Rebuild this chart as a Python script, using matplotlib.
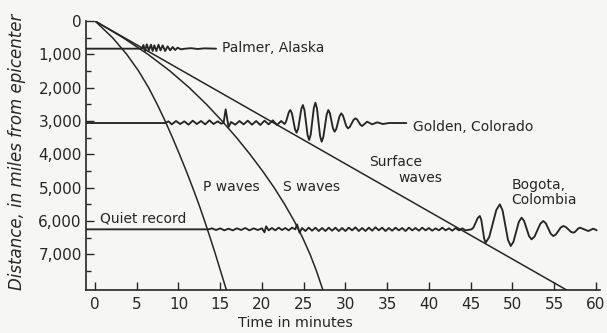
import numpy as np
import matplotlib
matplotlib.use("Agg")
import matplotlib.pyplot as plt

# travel-time curves (distance in miles, time in minutes)
p_dist = [0, 500, 1000, 1500, 2000, 2500, 3000, 3500, 4000, 4500, 5000,
          5500, 6000, 6500, 7000, 7500, 8070]
p_time = [0, 2.1, 3.8, 5.22, 6.42, 7.45, 8.4, 9.28, 10.12, 10.93, 11.7,
          12.44, 13.13, 13.79, 14.43, 15.04, 15.74]
s_dist = [0, 500, 1000, 1500, 2000, 2500, 3000, 3500, 4000, 4500, 5000,
          5500, 6000, 6500, 7000, 7500, 8070]
s_time = [0, 3.35, 6.35, 8.98, 11.29, 13.35, 15.22, 16.96, 18.57, 20.07, 21.46,
          22.72, 23.86, 24.87, 25.76, 26.53, 27.3]
surf_dist = [0, 8070]
surf_time = [0, 56.5]

# seismograph records: baseline distance + trace (time, offset in miles, negative = up)
palmer_base = 830
palmer_t = [-1.1, 5.6, 5.8, 6.0, 6.2, 6.45, 6.7, 6.9, 7.1, 7.35, 7.6, 7.85, 8.1,
            8.4, 8.7, 9.0, 9.3, 9.6, 9.9, 10.3, 10.8, 11.5, 12.3, 13.1, 14.5]
palmer_off = [0, 0, -110, 70, -130, 50, -120, 70, -100, 70, -120, 50, -100,
              70, -70, 50, -50, 40, -30, 20, 0, -15, 10, -10, 0]

golden_base = 3060
golden_t = [-1.1, 8.4, 8.8, 9.2, 9.7, 10.2, 10.7, 11.2, 11.7, 12.2, 12.7, 13.2,
            13.7, 14.2, 14.7, 15.1, 15.4, 15.65, 16.0, 16.3, 16.8, 17.3, 17.8,
            18.3, 18.8, 19.3, 19.8, 20.3, 20.8, 21.3, 21.8, 22.3,
            22.7, 22.875, 23.05, 23.225, 23.4,
            23.59, 23.775, 23.96, 24.15,
            24.34, 24.525, 24.71, 24.9,
            25.09, 25.275, 25.46, 25.65,
            25.84, 26.025, 26.21, 26.4,
            26.59, 26.775, 26.96, 27.15,
            27.35, 27.55, 27.75, 27.95,
            28.14, 28.325, 28.51, 28.7,
            28.9, 29.1, 29.3, 29.5,
            29.7, 29.9, 30.1, 30.3,
            30.525, 30.75, 30.975, 31.2,
            31.4, 31.6, 31.8, 32.0,
            32.6, 33.2, 33.8, 34.5, 35.2, 37.3]
golden_off = [0, 0, -50, 40, -60, 30, -50, 50, -70, 30, -60, 40,
              -80, 30, -50, 20, 0, -410, 120, -30, 50, -60, 40,
              -70, 50, -60, 60, -70, 40, -80, 60, -60,
              30, -32, -180, -328, -390,
              -290, -50, 190, 290,
              168, -125, -418, -540,
              -386, -15, 356, 510,
              346, -50, -446, -610,
              -439, -25, 389, 560,
              421, 85, -251, -390,
              -295, -65, 165, 260,
              179, -15, -209, -290,
              -224, -65, 94, 160,
              116, 10, -96, -140,
              -106, -25, 56, 90,
              -40, 40, -20, 30, 0, 0]

bogota_base = 6250
bogota_t = [-1.1, 13.6, 14.0, 14.5, 15.0, 15.5, 16.0, 16.5, 17.0, 17.5, 18.0,
            18.5, 19.0, 19.5, 20.0, 20.3, 20.5, 20.8, 21.2, 21.6, 22.0, 22.4,
            22.8, 23.2, 23.6, 24.0, 24.2, 24.5, 24.8, 25.2, 25.6, 26.0, 26.4,
            26.8, 27.2, 27.6, 28.0, 28.4, 28.8, 29.2, 29.6, 30.0, 30.4, 30.8,
            31.2, 31.6, 32.0, 32.4, 32.8, 33.2, 33.6, 34.0, 34.4, 34.8, 35.2,
            35.6, 36.0, 36.4, 36.8, 37.2, 37.6, 38.0, 38.4, 38.8, 39.2, 39.6,
            40.0, 40.4, 40.8, 41.2, 41.6, 42.0, 42.4, 42.8, 43.2, 43.6, 44.0,
            44.4, 45.1, 45.35, 45.6, 45.85, 46.1,
            46.275, 46.45, 46.625, 46.8,
            47.225, 47.65, 48.075, 48.5,
            48.825, 49.15, 49.475, 49.8,
            50.125, 50.45, 50.775, 51.1,
            51.4, 51.7, 52.0, 52.3,
            52.65, 53.0, 53.35, 53.7,
            54.0, 54.3, 54.6, 54.9,
            55.2, 55.5, 55.8, 56.1,
            56.4, 56.7, 57.0, 57.3,
            57.5, 57.7, 57.9, 58.1,
            58.6, 59.1, 59.7, 60.1]
bogota_off = [0, 0, -30, 20, -30, 30, -20, 30, -30, 20, -40,
              30, -30, 20, -30, 90, -90, 30, -40, 30, -50, 20,
              -40, 30, -50, 0, -150, 100, -40, 50, -50, 40, -50,
              50, -40, 50, -50, 40, -50, 50, -40, 50, -50, 30,
              -60, 50, -40, 50, -50, 40, -60, 30, -50, 50, -40,
              40, -50, 30, -40, 50, -50, 30, -40, 40, -50, 30,
              -40, 40, -30, 30, -50, 30, -30, 40, -40, 30, -30,
              30, 0, -59, -200, -341, -400,
              -283, 0, 283, 400,
              232, -175, -582, -750,
              -567, -125, 317, 500,
              376, 75, -226, -350,
              -255, -25, 205, 300,
              219, 25, -169, -250,
              -184, -25, 134, 200,
              156, 50, -56, -100,
              -71, 0, 71, 100,
              78, 25, -28, -50,
              0, 50, -20, 30]

ink = "#262626"
bg = "#f6f6f4"

plt.rcParams["font.family"] = ["DejaVu Sans"]

fig = plt.figure(figsize=(6.07, 3.33), dpi=100, facecolor=bg)
ax = fig.add_axes([0.1417, 0.1291, 0.8468, 0.8078])
ax.set_facecolor(bg)

# travel time curves
ax.plot(p_time, p_dist, color=ink, lw=1.1)
ax.plot(s_time, s_dist, color=ink, lw=1.1)
ax.plot(surf_time, surf_dist, color=ink, lw=1.1)

# seismograms
for tt, off, base in [(palmer_t, palmer_off, palmer_base),
                      (golden_t, golden_off, golden_base),
                      (bogota_t, bogota_off, bogota_base)]:
    ax.plot(tt, np.array(off) + base, color=ink, lw=1.35,
            solid_joinstyle="round", solid_capstyle="round")

ax.set_xlim(-1.08, 60.5)
ax.set_ylim(8070, 0)

ax.spines["top"].set_visible(False)
ax.spines["right"].set_visible(False)
for s in ["left", "bottom"]:
    ax.spines[s].set_linewidth(1.2)
    ax.spines[s].set_color(ink)

ax.set_xticks(np.arange(0, 61, 5))
ax.set_yticks(np.arange(0, 7001, 1000))
ax.set_yticks(np.arange(500, 7600, 1000), minor=True)
ax.set_yticklabels(["0", "1,000", "2,000", "3,000", "4,000", "5,000", "6,000", "7,000"])
ax.tick_params(axis="both", which="major", direction="in", colors=ink,
               length=6, width=1.0, labelsize=11)
ax.tick_params(axis="y", which="major", pad=3)
ax.tick_params(axis="x", which="major", pad=5)
ax.tick_params(axis="y", which="minor", direction="in", color=ink, length=3.5, width=1.0)

ax.set_xlabel("Time in minutes", fontsize=10.3, color=ink)
ax.xaxis.set_label_coords(0.4066, -0.097)
ax.set_ylabel("Distance, in miles from epicenter", fontsize=12, color=ink,
              style="italic")
ax.yaxis.set_label_coords(-0.134, 0.513)
ax.yaxis.label.set_va("center")

fs = 10
ax.text(15.2, 810, "Palmer, Alaska", fontsize=fs, color=ink, va="center")
ax.text(38.1, 3180, "Golden, Colorado", fontsize=fs, color=ink, va="center")
ax.text(32.8, 4220, "Surface", fontsize=fs, color=ink, va="center")
ax.text(36.3, 4710, "waves", fontsize=fs, color=ink, va="center")
ax.text(49.9, 4920, "Bogota,", fontsize=fs, color=ink, va="center")
ax.text(49.9, 5370, "Colombia", fontsize=fs, color=ink, va="center")
ax.text(12.9, 4970, "P waves", fontsize=fs, color=ink, va="center")
ax.text(22.5, 4970, "S waves", fontsize=fs, color=ink, va="center")
ax.text(0.6, 5910, "Quiet record", fontsize=fs, color=ink, va="center")

fig.savefig("out.png", dpi=100, facecolor=bg)
